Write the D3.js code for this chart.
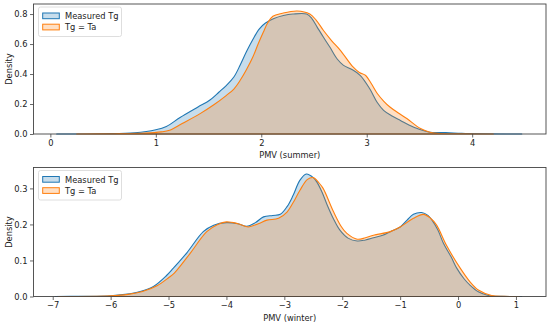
<!DOCTYPE html>
<html>
<head>
<meta charset="utf-8">
<script src="https://cdn.jsdelivr.net/npm/d3@7"></script>
<style>
  body { margin: 0; background: #fff; }
  text { font-family: "DejaVu Sans", sans-serif; font-size: 8.3px; fill: #222; }
</style>
</head>
<body>
<div id="chart"></div>
<script>
// series names and colours
const seriesNames = ["Measured Tg", "Tg = Ta"];
const seriesColors = ["#1f77b4", "#ff7f0e"];

// summer KDE
const summerMeasuredX = [0.06, 0.5, 0.8, 1.0, 1.1, 1.23, 1.4, 1.51, 1.6, 1.67, 1.74, 1.8, 1.86, 1.92, 1.98, 2.04, 2.12, 2.21, 2.3, 2.43, 2.48, 2.53, 2.59, 2.65, 2.72, 2.78, 2.86, 2.94, 3.03, 3.1, 3.16, 3.24, 3.32, 3.4, 3.48, 3.6, 3.75, 3.9, 4.1, 4.47];
const summerMeasuredY = [0, 0.002, 0.008, 0.028, 0.05, 0.11, 0.18, 0.225, 0.28, 0.325, 0.38, 0.46, 0.55, 0.63, 0.70, 0.74, 0.77, 0.79, 0.80, 0.80, 0.77, 0.713, 0.645, 0.58, 0.50, 0.458, 0.43, 0.39, 0.30, 0.21, 0.158, 0.12, 0.09, 0.06, 0.036, 0.012, 0.01, 0.004, 0.001, 0];
const summerTaX = [0.25, 0.6, 0.9, 1.05, 1.13, 1.25, 1.42, 1.55, 1.67, 1.74, 1.8, 1.86, 1.92, 1.97, 2.02, 2.06, 2.11, 2.2, 2.34, 2.46, 2.52, 2.59, 2.67, 2.75, 2.87, 2.93, 2.99, 3.04, 3.1, 3.16, 3.22, 3.3, 3.38, 3.51, 3.6, 3.7, 3.9, 4.2];
const summerTaY = [0, 0.002, 0.006, 0.014, 0.025, 0.07, 0.136, 0.195, 0.258, 0.30, 0.358, 0.43, 0.513, 0.60, 0.68, 0.74, 0.785, 0.805, 0.82, 0.80, 0.76, 0.69, 0.62, 0.558, 0.447, 0.41, 0.39, 0.34, 0.27, 0.22, 0.18, 0.14, 0.103, 0.036, 0.012, 0.003, 0.001, 0];

// winter KDE
const winterMeasuredX = [-6.96, -6.5, -6.0, -5.75, -5.49, -5.26, -5.03, -4.92, -4.68, -4.4, -4.22, -4.0, -3.8, -3.65, -3.5, -3.36, -3.2, -3.07, -2.95, -2.85, -2.73, -2.62, -2.5, -2.44, -2.35, -2.26, -2.15, -2.04, -1.9, -1.74, -1.6, -1.46, -1.3, -1.17, -1.0, -0.88, -0.77, -0.63, -0.52, -0.45, -0.35, -0.25, -0.12, -0.02, 0.1, 0.21, 0.35, 0.52, 0.75, 1.1];
const winterMeasuredY = [0, 0.0005, 0.002, 0.006, 0.014, 0.028, 0.059, 0.078, 0.122, 0.18, 0.198, 0.205, 0.202, 0.195, 0.205, 0.221, 0.225, 0.228, 0.25, 0.28, 0.323, 0.34, 0.33, 0.318, 0.29, 0.254, 0.215, 0.184, 0.162, 0.154, 0.157, 0.163, 0.17, 0.18, 0.193, 0.212, 0.228, 0.233, 0.225, 0.212, 0.185, 0.147, 0.11, 0.078, 0.05, 0.031, 0.013, 0.003, 0.0005, 0];
const winterTaX = [-6.9, -6.0, -5.7, -5.45, -5.2, -5.0, -4.9, -4.63, -4.34, -4.15, -4.0, -3.8, -3.62, -3.45, -3.3, -3.1, -2.95, -2.85, -2.73, -2.6, -2.5, -2.4, -2.33, -2.15, -2.02, -1.92, -1.74, -1.6, -1.46, -1.17, -1.0, -0.77, -0.6, -0.48, -0.37, -0.2, 0.04, 0.21, 0.35, 0.58, 0.8, 1.05];
const winterTaY = [0, 0.002, 0.006, 0.014, 0.03, 0.052, 0.065, 0.119, 0.18, 0.2, 0.207, 0.202, 0.193, 0.202, 0.212, 0.217, 0.235, 0.26, 0.295, 0.325, 0.33, 0.315, 0.30, 0.235, 0.195, 0.175, 0.159, 0.163, 0.17, 0.18, 0.193, 0.217, 0.228, 0.218, 0.198, 0.142, 0.078, 0.04, 0.018, 0.003, 0.0005, 0];

// tick values
const summerXTicks = [0, 1, 2, 3, 4];
const summerYTicks = [0, 0.2, 0.4, 0.6, 0.8];
const winterXTicks = [-7, -6, -5, -4, -3, -2, -1, 0, 1];
const winterYTicks = [0, 0.1, 0.2, 0.3];

const width = 550, height = 325;

const svg = d3.select("#chart")
  .append("svg")
    .attr("width", width)
    .attr("height", height);

function toPoints(xs, ys) {
  return xs.map((x, i) => ({ x: x, y: ys[i] }));
}

// draw one panel
function panel(box, xDomain, yDomain, xTicks, yTicks, series, xLabel) {
  const x = d3.scaleLinear().domain(xDomain).range([box.left, box.right]);
  const y = d3.scaleLinear().domain(yDomain).range([box.bottom, box.top]);

  const area = d3.area()
    .x(d => x(d.x))
    .y0(y(0))
    .y1(d => y(d.y))
    .curve(d3.curveCatmullRom.alpha(0.5));

  const g = svg.append("g");

  // fills + edges, measured first so Tg = Ta sits on top
  series.forEach(function(s, i) {
    g.append("path")
      .datum(s)
      .attr("d", area)
      .attr("fill", seriesColors[i])
      .attr("fill-opacity", 0.25)
      .attr("stroke", seriesColors[i])
      .attr("stroke-width", 1.1)
      .attr("stroke-linejoin", "round");
  });

  // axes
  g.append("g")
    .attr("transform", `translate(0,${box.bottom})`)
    .call(d3.axisBottom(x).tickValues(xTicks).tickFormat(d3.format("d")).tickSize(3.5).tickPadding(2.5).tickSizeOuter(0))
    .call(a => a.select(".domain").remove());
  g.append("g")
    .attr("transform", `translate(${box.left},0)`)
    .call(d3.axisLeft(y).tickValues(yTicks).tickFormat(d3.format(".1f")).tickSize(3.5).tickPadding(2.5).tickSizeOuter(0))
    .call(a => a.select(".domain").remove());
  g.selectAll(".tick line").attr("stroke", "#444").attr("stroke-width", 0.8);
  g.selectAll(".tick text").attr("font-family", null).attr("font-size", null).attr("fill", "#222");

  // frame
  g.append("rect")
    .attr("x", box.left)
    .attr("y", box.top)
    .attr("width", box.right - box.left)
    .attr("height", box.bottom - box.top)
    .attr("fill", "none")
    .attr("stroke", "#444")
    .attr("stroke-width", 0.9);

  // labels
  g.append("text")
    .attr("x", (box.left + box.right) / 2)
    .attr("y", box.bottom + 24)
    .style("text-anchor", "middle")
    .text(xLabel);
  g.append("text")
    .attr("transform", `translate(12,${(box.top + box.bottom) / 2}) rotate(-90)`)
    .style("text-anchor", "middle")
    .text("Density");

  // legend
  const lg = g.append("g").attr("transform", `translate(${box.left + 5},${box.top + 3})`);
  lg.append("rect")
    .attr("width", 83)
    .attr("height", 29.5)
    .attr("rx", 2)
    .attr("fill", "#fff")
    .attr("fill-opacity", 0.8)
    .attr("stroke", "#d5d5d5")
    .attr("stroke-width", 0.8);
  seriesNames.forEach(function(name, i) {
    lg.append("rect")
      .attr("x", 4.2)
      .attr("y", 6 + i * 11.2)
      .attr("width", 16.6)
      .attr("height", 5.7)
      .attr("fill", seriesColors[i])
      .attr("fill-opacity", 0.25)
      .attr("stroke", seriesColors[i])
      .attr("stroke-width", 1);
    lg.append("text")
      .attr("x", 26.5)
      .attr("y", 9.2 + i * 11.2)
      .attr("dy", "0.35em")
      .text(name);
  });
}

panel({ left: 33.5, right: 546, top: 4, bottom: 134 },
  [-0.16, 4.70], [0, 0.867], summerXTicks, summerYTicks,
  [toPoints(summerMeasuredX, summerMeasuredY), toPoints(summerTaX, summerTaY)],
  "PMV (summer)");

panel({ left: 33.5, right: 546, top: 167.5, bottom: 296.5 },
  [-7.332, 1.519], [0, 0.358], winterXTicks, winterYTicks,
  [toPoints(winterMeasuredX, winterMeasuredY), toPoints(winterTaX, winterTaY)],
  "PMV (winter)");
</script>
</body>
</html>
